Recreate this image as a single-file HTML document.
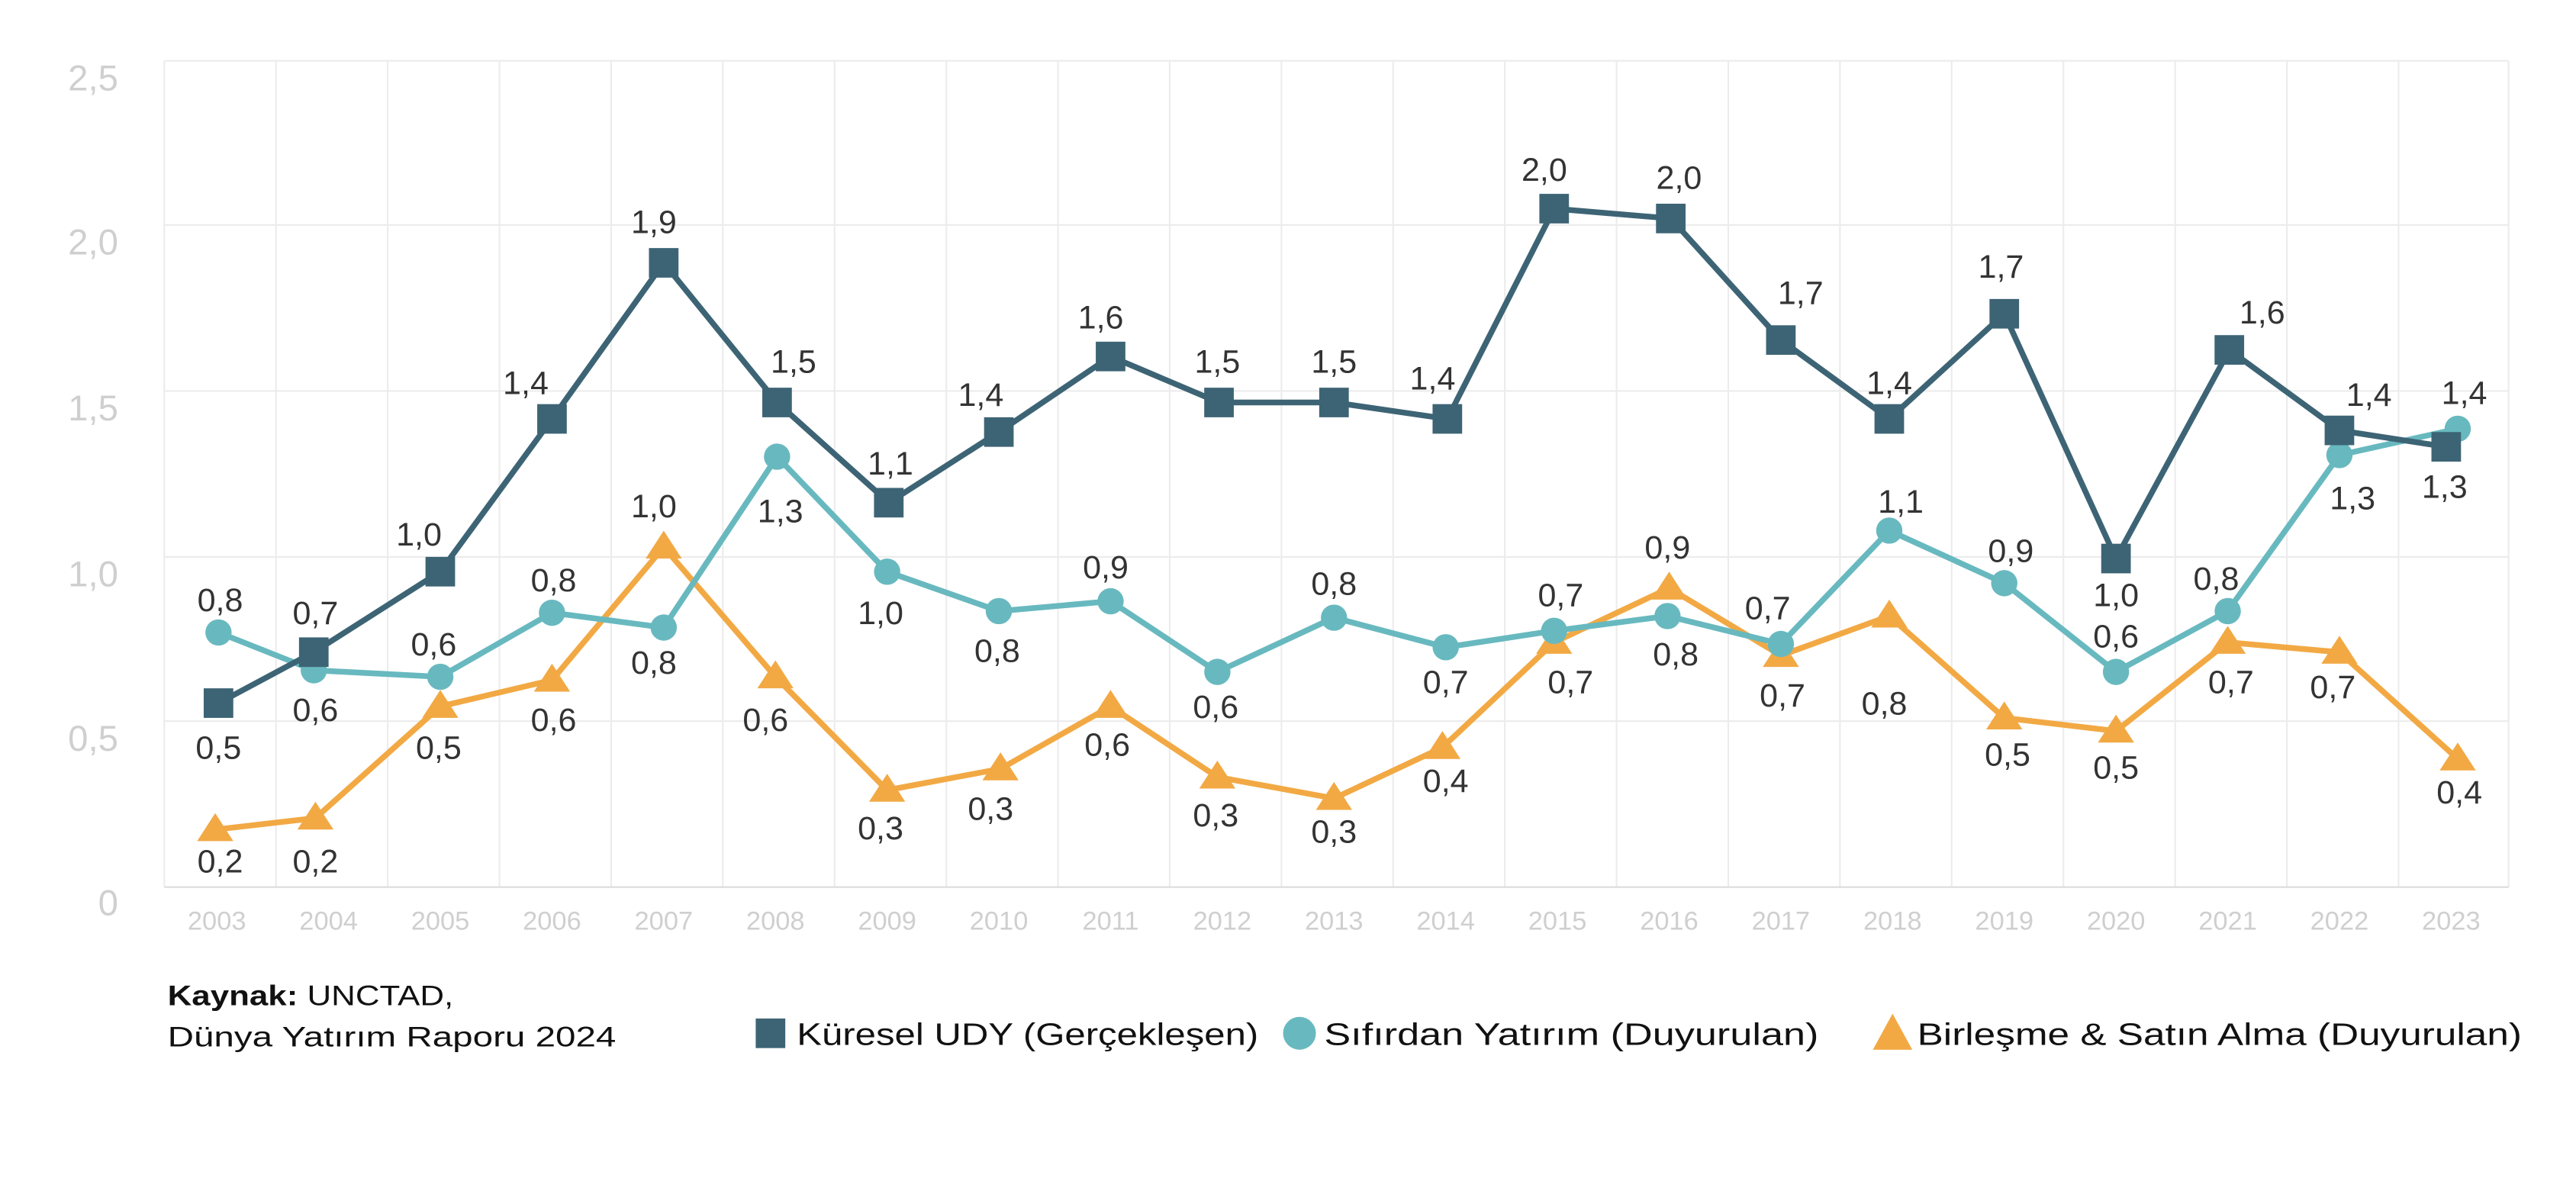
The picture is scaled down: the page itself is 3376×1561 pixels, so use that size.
<!DOCTYPE html>
<html><head><meta charset="utf-8"><style>
html,body{margin:0;padding:0;background:#fff;}
svg{display:block;}
text{font-family:"Liberation Sans",sans-serif;}
</style></head><body>
<svg width="3376" height="1561" viewBox="0 0 1568 725" xmlns="http://www.w3.org/2000/svg">
<rect width="1568" height="725" fill="#fff"/>
<g stroke="#ececec" stroke-width="1">
<line x1="100" y1="37" x2="1527" y2="37"/><line x1="100" y1="137" x2="1527" y2="137"/>
<line x1="100" y1="238" x2="1527" y2="238"/><line x1="100" y1="339" x2="1527" y2="339"/>
<line x1="100" y1="439" x2="1527" y2="439"/>
<line x1="100" y1="37" x2="100" y2="540"/><line x1="168" y1="37" x2="168" y2="540"/><line x1="236" y1="37" x2="236" y2="540"/><line x1="304" y1="37" x2="304" y2="540"/><line x1="372" y1="37" x2="372" y2="540"/><line x1="440" y1="37" x2="440" y2="540"/><line x1="508" y1="37" x2="508" y2="540"/><line x1="576" y1="37" x2="576" y2="540"/><line x1="644" y1="37" x2="644" y2="540"/><line x1="712" y1="37" x2="712" y2="540"/><line x1="780" y1="37" x2="780" y2="540"/><line x1="848" y1="37" x2="848" y2="540"/><line x1="916" y1="37" x2="916" y2="540"/><line x1="984" y1="37" x2="984" y2="540"/><line x1="1052" y1="37" x2="1052" y2="540"/><line x1="1120" y1="37" x2="1120" y2="540"/><line x1="1188" y1="37" x2="1188" y2="540"/><line x1="1256" y1="37" x2="1256" y2="540"/><line x1="1324" y1="37" x2="1324" y2="540"/><line x1="1392" y1="37" x2="1392" y2="540"/><line x1="1460" y1="37" x2="1460" y2="540"/><line x1="1527" y1="37" x2="1527" y2="540"/>
</g>
<line x1="100" y1="540" x2="1527" y2="540" stroke="#dcdcdc" stroke-width="1"/>
<g fill="#cfcfcf" font-size="22" text-anchor="end">
<text x="72" y="55">2,5</text><text x="72" y="155">2,0</text><text x="72" y="256">1,5</text><text x="72" y="357">1,0</text><text x="72" y="457">0,5</text><text x="72" y="557">0</text>
</g>
<g fill="#cfcfcf" font-size="16" text-anchor="middle">
<text x="132" y="566">2003</text><text x="200" y="566">2004</text><text x="268" y="566">2005</text><text x="336" y="566">2006</text><text x="404" y="566">2007</text><text x="472" y="566">2008</text><text x="540" y="566">2009</text><text x="608" y="566">2010</text><text x="676" y="566">2011</text><text x="744" y="566">2012</text><text x="812" y="566">2013</text><text x="880" y="566">2014</text><text x="948" y="566">2015</text><text x="1016" y="566">2016</text><text x="1084" y="566">2017</text><text x="1152" y="566">2018</text><text x="1220" y="566">2019</text><text x="1288" y="566">2020</text><text x="1356" y="566">2021</text><text x="1424" y="566">2022</text><text x="1492" y="566">2023</text>
</g>
<polyline fill="none" stroke="#f2a944" stroke-width="3.5" stroke-linejoin="round" points="131,505 192,498 268,430 336,414 404,333 472,412 540,481 609,468 676,430 741,473 812,486 878,455 946,391 1016,358 1084,399 1150,375 1220,437 1288,445 1356,391 1424,397 1496,462"/>
<g fill="#f2a944">
<polygon points="131,495 120,512 142,512"/><polygon points="192,488 181,505 203,505"/><polygon points="268,420 257,437 279,437"/><polygon points="336,404 325,421 347,421"/><polygon points="404,323 393,340 415,340"/><polygon points="472,402 461,419 483,419"/><polygon points="540,471 529,488 551,488"/><polygon points="609,458 598,475 620,475"/><polygon points="676,420 665,437 687,437"/><polygon points="741,463 730,480 752,480"/><polygon points="812,476 801,493 823,493"/><polygon points="878,445 867,462 889,462"/><polygon points="946,381 935,398 957,398"/><polygon points="1016,348 1005,365 1027,365"/><polygon points="1084,389 1073,406 1095,406"/><polygon points="1150,365 1139,382 1161,382"/><polygon points="1220,427 1209,444 1231,444"/><polygon points="1288,435 1277,452 1299,452"/><polygon points="1356,381 1345,398 1367,398"/><polygon points="1424,387 1413,404 1435,404"/><polygon points="1496,452 1485,469 1507,469"/>
</g>
<polyline fill="none" stroke="#68b9bf" stroke-width="3.5" stroke-linejoin="round" points="133,385 191,408 268,412 336,373 404,382 473,278 540,348 608,372 676,366 741,409 812,376 880,394 946,384 1015,375 1084,392 1150,323 1220,355 1288,409 1356,372 1424,277 1496,261"/>
<g fill="#68b9bf">
<circle cx="133" cy="385" r="8"/><circle cx="191" cy="408" r="8"/><circle cx="268" cy="412" r="8"/><circle cx="336" cy="373" r="8"/><circle cx="404" cy="382" r="8"/><circle cx="473" cy="278" r="8"/><circle cx="540" cy="348" r="8"/><circle cx="608" cy="372" r="8"/><circle cx="676" cy="366" r="8"/><circle cx="741" cy="409" r="8"/><circle cx="812" cy="376" r="8"/><circle cx="880" cy="394" r="8"/><circle cx="946" cy="384" r="8"/><circle cx="1015" cy="375" r="8"/><circle cx="1084" cy="392" r="8"/><circle cx="1150" cy="323" r="8"/><circle cx="1220" cy="355" r="8"/><circle cx="1288" cy="409" r="8"/><circle cx="1356" cy="372" r="8"/><circle cx="1424" cy="277" r="8"/><circle cx="1496" cy="261" r="8"/>
</g>
<polyline fill="none" stroke="#3d6475" stroke-width="3.5" stroke-linejoin="round" points="133,428 191,397 268,348 336,255 404,160 473,245 541,306 608,263 676,217 742,245 812,245 881,255 946,127 1017,133 1084,207 1150,255 1220,191 1288,340 1357,213 1424,262 1489,272"/>
<g fill="#3d6475">
<rect x="124" y="419" width="18" height="18"/><rect x="182" y="388" width="18" height="18"/><rect x="259" y="339" width="18" height="18"/><rect x="327" y="246" width="18" height="18"/><rect x="395" y="151" width="18" height="18"/><rect x="464" y="236" width="18" height="18"/><rect x="532" y="297" width="18" height="18"/><rect x="599" y="254" width="18" height="18"/><rect x="667" y="208" width="18" height="18"/><rect x="733" y="236" width="18" height="18"/><rect x="803" y="236" width="18" height="18"/><rect x="872" y="246" width="18" height="18"/><rect x="937" y="118" width="18" height="18"/><rect x="1008" y="124" width="18" height="18"/><rect x="1075" y="198" width="18" height="18"/><rect x="1141" y="246" width="18" height="18"/><rect x="1211" y="182" width="18" height="18"/><rect x="1279" y="331" width="18" height="18"/><rect x="1348" y="204" width="18" height="18"/><rect x="1415" y="253" width="18" height="18"/><rect x="1480" y="263" width="18" height="18"/>
</g>
<g fill="#333" font-size="20" text-anchor="middle">
<text x="133" y="462">0,5</text><text x="192" y="380">0,7</text><text x="255" y="332">1,0</text><text x="320" y="240">1,4</text><text x="398" y="142">1,9</text><text x="483" y="227">1,5</text><text x="542" y="289">1,1</text><text x="597" y="247">1,4</text><text x="670" y="200">1,6</text><text x="741" y="227">1,5</text><text x="812" y="227">1,5</text><text x="872" y="237">1,4</text><text x="940" y="110">2,0</text><text x="1022" y="115">2,0</text><text x="1096" y="185">1,7</text><text x="1150" y="240">1,4</text><text x="1218" y="169">1,7</text><text x="1288" y="369">1,0</text><text x="1377" y="197">1,6</text><text x="1442" y="247">1,4</text><text x="1488" y="303">1,3</text>
<text x="134" y="372">0,8</text><text x="192" y="439">0,6</text><text x="264" y="399">0,6</text><text x="337" y="360">0,8</text><text x="398" y="410">0,8</text><text x="475" y="318">1,3</text><text x="536" y="380">1,0</text><text x="607" y="403">0,8</text><text x="673" y="352">0,9</text><text x="740" y="437">0,6</text><text x="812" y="362">0,8</text><text x="880" y="422">0,7</text><text x="950" y="369">0,7</text><text x="1020" y="405">0,8</text><text x="1076" y="377">0,7</text><text x="1157" y="312">1,1</text><text x="1224" y="342">0,9</text><text x="1288" y="394">0,6</text><text x="1349" y="359">0,8</text><text x="1432" y="310">1,3</text><text x="1500" y="246">1,4</text>
<text x="134" y="531">0,2</text><text x="192" y="531">0,2</text><text x="267" y="462">0,5</text><text x="337" y="445">0,6</text><text x="398" y="315">1,0</text><text x="466" y="445">0,6</text><text x="536" y="511">0,3</text><text x="603" y="499">0,3</text><text x="674" y="460">0,6</text><text x="740" y="503">0,3</text><text x="812" y="513">0,3</text><text x="880" y="482">0,4</text><text x="956" y="422">0,7</text><text x="1015" y="340">0,9</text><text x="1085" y="430">0,7</text><text x="1147" y="435">0,8</text><text x="1222" y="466">0,5</text><text x="1288" y="474">0,5</text><text x="1358" y="422">0,7</text><text x="1420" y="425">0,7</text><text x="1497" y="489">0,4</text>
</g>
<g fill="#111" font-size="17">
<text x="102" y="612" textLength="174" lengthAdjust="spacingAndGlyphs"><tspan font-weight="bold">Kaynak:</tspan> UNCTAD,</text>
<text x="102" y="637" textLength="273" lengthAdjust="spacingAndGlyphs">Dünya Yatırım Raporu 2024</text>
</g>
<rect x="460" y="620" width="18" height="18" fill="#3d6475"/>
<circle cx="791" cy="629" r="10" fill="#68b9bf"/>
<polygon points="1152,617 1140,639 1164,639" fill="#f2a944"/>
<g fill="#111" font-size="19">
<text x="485" y="636" textLength="281" lengthAdjust="spacingAndGlyphs">Küresel UDY (Gerçekleşen)</text>
<text x="806" y="636" textLength="301" lengthAdjust="spacingAndGlyphs">Sıfırdan Yatırım (Duyurulan)</text>
<text x="1167" y="636" textLength="368" lengthAdjust="spacingAndGlyphs">Birleşme &amp; Satın Alma (Duyurulan)</text>
</g>
</svg>
</body></html>
